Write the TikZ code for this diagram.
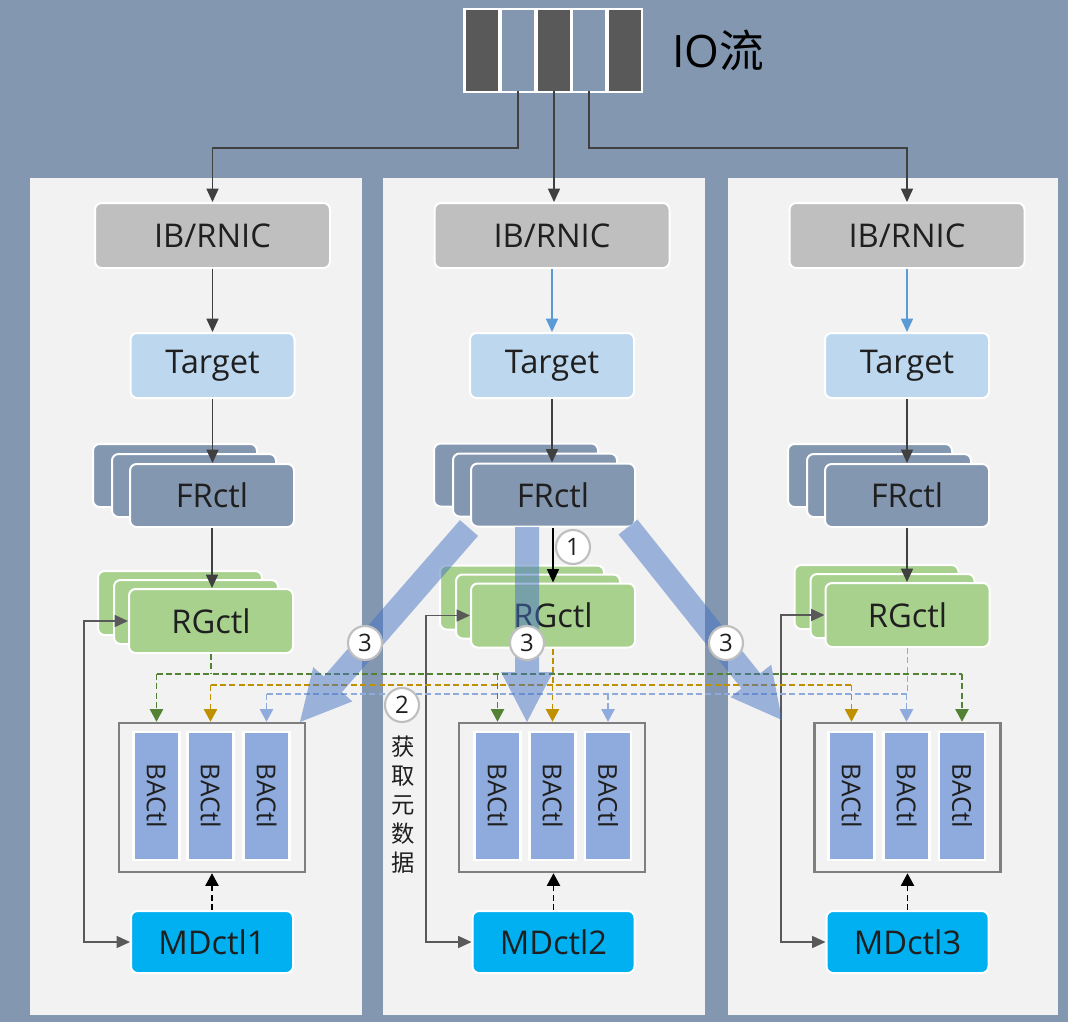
\documentclass[tikz,border=0pt]{standalone}
\usepackage{fontspec}
\setmainfont{Open Sans}
\newfontfamily\cjk{Noto Sans CJK SC}
\usetikzlibrary{arrows.meta,calc}
\definecolor{bgc}{HTML}{8497B0}
\definecolor{panelc}{HTML}{F2F2F2}
\definecolor{ibc}{HTML}{BFBFBF}
\definecolor{tgc}{HTML}{BDD7EE}
\definecolor{frc}{HTML}{8497B0}
\definecolor{rgc}{HTML}{A9D18E}
\definecolor{bac}{HTML}{8FAADC}
\definecolor{mdc}{HTML}{00B0F0}
\definecolor{darkc}{HTML}{595959}
\definecolor{txtc}{HTML}{1F1F1F}
\definecolor{gdc}{HTML}{548235}
\definecolor{odc}{HTML}{BF9000}
\definecolor{bdc}{HTML}{8FAADC}
\definecolor{arrc}{HTML}{404040}
\definecolor{bigc}{HTML}{4472C4}
\definecolor{contc}{HTML}{7F7F7F}
\definecolor{circc}{HTML}{BFBFBF}
\definecolor{bluearr}{HTML}{5B9BD5}
\newcommand\bigarr[2]{%
  \coordinate (hh) at ($(#2)!37.5pt!(#1)$);
  \fill[bigc,opacity=0.5] ($(#1)!9pt!90:(#2)$) -- ($(hh)!9pt!90:(#2)$) -- ($(hh)!19.5pt!90:(#2)$) -- (#2) -- ($(hh)!19.5pt!-90:(#2)$) -- ($(hh)!9pt!-90:(#2)$) -- ($(#1)!9pt!-90:(#2)$) -- cycle;}
\tikzset{
  box/.style={rounded corners=5pt, draw=white, line width=1.5pt, text=txtc, font=\fontsize{24.5}{28}\selectfont, inner sep=0pt},
  ibbox/.style={box, fill=ibc, minimum width=176.25pt, minimum height=48.75pt},
  tgbox/.style={box, fill=tgc, minimum width=123pt, minimum height=48.75pt},
  frbox/.style={box, fill=frc, minimum width=123pt, minimum height=47.25pt},
  rgbox/.style={box, fill=rgc, minimum width=123pt, minimum height=48pt},
  mdbox/.style={box, fill=mdc, minimum width=121.5pt, minimum height=46.5pt},
  contbox/.style={draw=contc, line width=1.9pt, minimum width=139.5pt, minimum height=111.75pt, inner sep=0pt},
  babox/.style={fill=bac, draw=white, line width=2pt, minimum width=34.5pt, minimum height=96pt, inner sep=0pt},
  batext/.style={rotate=-90, text=txtc, font=\fontsize{19.5}{22}\selectfont, inner sep=0pt},
  iocell/.style={minimum width=24pt, minimum height=60.75pt, inner sep=0pt},
  darr/.style={draw=arrc, line width=1.1pt, -{Triangle[length=10pt,width=9pt]}},
  lconn/.style={draw=darkc, line width=1.1pt, {Triangle[length=10pt,width=9pt]}-{Triangle[length=10pt,width=9pt]}},
  dsh/.style={line width=1.1pt, dash pattern=on 4.5pt off 2.5pt},
  dtip/.style={-{Triangle[length=9.5pt,width=10pt]}},
  circnum/.style={circle, draw=circc, fill=white, line width=1.6pt, minimum size=25.5pt, inner sep=0pt, text=txtc, font=\fontsize{18}{18}\selectfont}
}
\begin{document}
\begin{tikzpicture}[x=0.75pt,y=-0.75pt]
\useasboundingbox (0,0) rectangle (1068,1022);
\fill[bgc] (0,0) rectangle (1068,1022);
% panels
\fill[panelc] (30,178) rectangle (362,1015);
\fill[panelc] (383,178) rectangle (705,1015);
\fill[panelc] (728,178) rectangle (1058,1015);
% IO stream
\node[fill=white, minimum width=135pt, minimum height=63.75pt, inner sep=0pt] (iobox) at (553,50.5) {};
\node[iocell, fill=darkc] (io1) at (482,50.5) {};
\node[iocell, fill=bgc] (io2) at (518,50.5) {};
\node[iocell, fill=darkc] (io3) at (554,50.5) {};
\node[iocell, fill=bgc] (io4) at (589,50.5) {};
\node[iocell, fill=darkc] (io5) at (625,50.5) {};
\node[anchor=west, inner sep=0pt, text=black, font=\fontsize{33.5}{36}\selectfont] (iolabel) at (672,50) {IO{\cjk 流}};
\coordinate (busy) at (0,148);
% boxes
\foreach \i/\x in {1/212.5,2/552,3/907}{
  \node[ibbox] (ib\i) at (\x,235.5) {IB/RNIC};
  \node[tgbox] (tg\i) at (\x,365.5) {Target};
}
\foreach \i/\x/\y in {1/212/495.5,2/553/495,3/907/495.5}{
  \node[frbox] (fr\i c) at (\x-37,\y-20) {};
  \node[frbox] (fr\i b) at (\x-18,\y-10) {};
  \node[frbox] (fr\i) at (\x,\y) {FRctl};
}
\foreach \i/\x/\y in {1/211/621,2/553/615.5,3/907.5/615}{
  \node[rgbox] (rg\i c) at (\x-31,\y-18) {};
  \node[rgbox] (rg\i b) at (\x-15,\y-9) {};
  \node[rgbox] (rg\i) at (\x,\y) {RGctl};
}
\foreach \i/\x in {1/212,2/552,3/907.5}{
  \node[contbox] (c\i) at (\x,797.5) {};
}
\foreach \i/\x in {1/212,2/553.5,3/907.5}{
  \node[mdbox] (md\i) at (\x,942) {MDctl\i};
}
\foreach \n/\x in {11/156.5,12/210.5,13/266.5,21/497.5,22/552.5,23/608,31/851.5,32/906.5,33/962}{
  \node[babox] (b\n) at (\x,796) {};
  \node[batext] (b\n t) at (b\n) {BACtl};
}
% IO lines
\draw[darr] (io2.south) -- (io2.south |- busy) -| (ib1.north);
\draw[darr] (io3.south) -- (io3.south |- ib2.north);
\draw[darr] (io4.south) -- (io4.south |- busy) -| (ib3.north);
% vertical arrows
\draw[darr] (ib1) -- (tg1);
\draw[darr, draw=bluearr] (ib2) -- (tg2);
\draw[darr, draw=bluearr] (ib3) -- (tg3);
\foreach \i in {1,2,3}{
  \draw[darr] (tg\i) -- (tg\i.south |- fr\i.north);
}
\draw[darr] (fr1) -- (fr1.south |- rg1.north);
\draw[darr, draw=black] (fr2) -- (fr2.south |- rg2.north);
\draw[darr] (fr3) -- (fr3.south |- rg3.north);
% MDctl -> containers
\foreach \i in {1,2,3}{
  \draw[dsh, dtip, draw=black] (md\i.north) -- (md\i.north |- c\i.south);
}
% L connectors
\coordinate (lx1) at (84,0);
\coordinate (lx2) at (426,0);
\coordinate (lx3) at (781,0);
\foreach \i in {1,2,3}{
  \draw[lconn] (rg\i.west) -- (rg\i.west -| lx\i) -- (md\i.west -| lx\i) -- (md\i.west);
}
% dashed buses
\coordinate (gy) at (0,674);
\coordinate (oy) at (0,685);
\coordinate (by) at (0,694);
\draw[dsh, draw=gdc] (rg1.south) -- (rg1.south |- gy);
\draw[dsh, draw=gdc] (b11 |- gy) -- (b33 |- gy);
\foreach \n/\c in {11/1,21/2,33/3}{
  \draw[dsh, dtip, draw=gdc] (b\n |- gy) -- (b\n |- c\c.north);
}
\draw[dsh, draw=odc] (rg2.south) -- (rg2.south |- oy);
\draw[dsh, draw=odc] (b12 |- oy) -- (b31 |- oy);
\foreach \n/\c in {12/1,22/2,31/3}{
  \draw[dsh, dtip, draw=odc] (b\n |- oy) -- (b\n |- c\c.north);
}
\draw[dsh, draw=bdc] (rg3.south) -- (rg3.south |- by);
\draw[dsh, draw=bdc] (b13 |- by) -- (b32 |- by);
\foreach \n/\c in {13/1,23/2,32/3}{
  \draw[dsh, dtip, draw=bdc] (b\n |- by) -- (b\n |- c\c.north);
}
% big arrows
\coordinate (s1) at (469,528);
\coordinate (t1) at (300,722);
\coordinate (s2) at (527,527);
\coordinate (t2) at (527,722);
\coordinate (s3) at (628,527);
\coordinate (t3) at (782,720);
\bigarr{s1}{t1}
\bigarr{s2}{t2}
\bigarr{s3}{t3}
% circled numbers
\node[circnum] (n1) at (573,547) {1};
\node[circnum] (n2) at (402,705) {2};
\node[circnum] (n3a) at (365,643) {3};
\node[circnum] (n3b) at (527,643) {3};
\node[circnum] (n3c) at (726,643) {3};
\node[align=center, inner sep=0pt, text=txtc, font=\cjk\fontsize{17.5}{21.75}\selectfont] (meta) at (403,805) {获\\取\\元\\数\\据};
\end{tikzpicture}
\end{document}
